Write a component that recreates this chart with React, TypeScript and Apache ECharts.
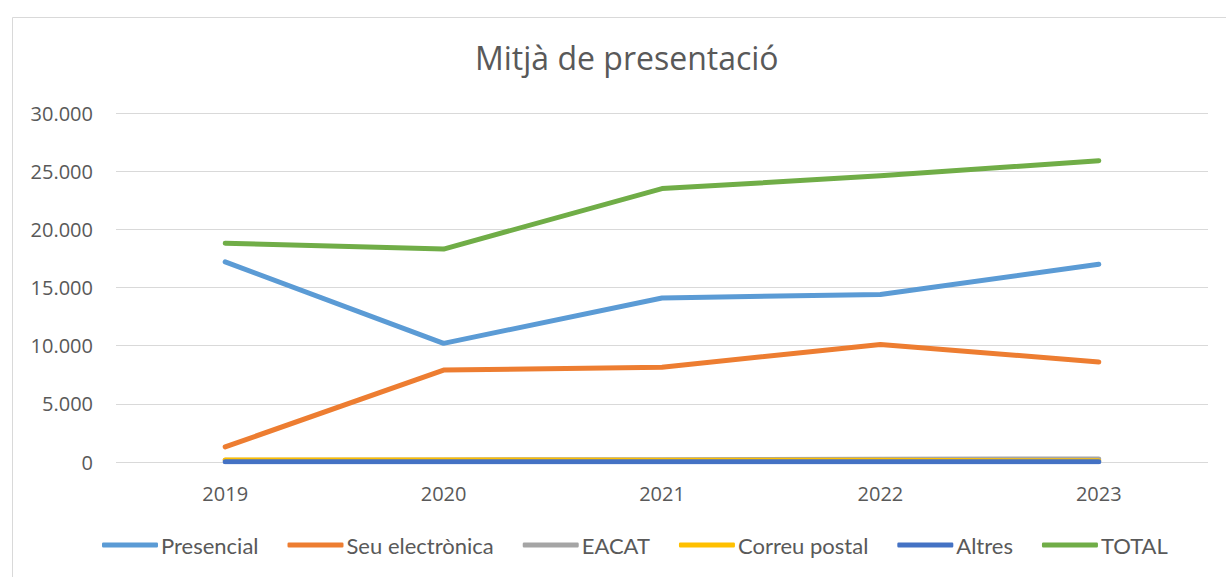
import React, { useEffect, useRef } from "react";
import * as echarts from "echarts";

const titleText = "Mitjà de presentació";
const categories = ["2019", "2020", "2021", "2022", "2023"];
const seriesNames = ["Presencial", "Seu electrònica", "EACAT", "Correu postal", "Altres", "TOTAL"];
const presencial = [17200, 10200, 14100, 14400, 17000];
const seuElectronica = [1300, 7900, 8150, 10100, 8600];
const eacat = [150, 180, 200, 230, 260];
const correuPostal = [180, 170, 160, 140, 100];
const altres = [30, 30, 30, 30, 30];
const total = [18800, 18300, 23500, 24600, 25900];
const yTicks = { min: 0, max: 30000, interval: 5000 };

const colors = ["#5B9BD5", "#ED7D31", "#A5A5A5", "#FFC000", "#4472C4", "#70AD47"];

export default function App() {
  const ref = useRef<HTMLDivElement>(null);
  useEffect(() => {
    if (!ref.current) return;
    const chart = echarts.init(ref.current, null, { renderer: "svg" });
    const values = [presencial, seuElectronica, eacat, correuPostal, altres, total];
    const fmt = (v: number) => String(v).replace(/\B(?=(\d{3})+(?!\d))/g, ".");
    chart.setOption({
      animation: false,
      backgroundColor: "#ffffff",
      color: colors,
      graphic: [
        {
          type: "rect",
          left: 10,
          top: 15,
          shape: { width: 1300, height: 700 },
          style: { fill: "none", stroke: "#d9d9d9", lineWidth: 1 },
          silent: true,
        },
      ],
      title: {
        text: titleText,
        left: 470,
        top: 36,
        textStyle: { fontFamily: "Open Sans", fontSize: 32, fontWeight: "normal", color: "#595959" },
      },
      legend: {
        data: seriesNames,
        left: 97,
        top: 529,
        itemWidth: 56,
        itemHeight: 5,
        itemGap: 29,
        icon: "roundRect",
        textStyle: { fontFamily: "Lato", fontSize: 22, color: "#595959", padding: [0, 0, 0, -2] },
      },
      grid: { left: 116, right: 18, top: 113, bottom: 115, containLabel: false },
      xAxis: {
        type: "category",
        data: categories,
        boundaryGap: true,
        axisLine: { show: false },
        axisTick: { show: false },
        axisLabel: { fontFamily: "Open Sans", fontSize: 20, color: "#595959", margin: 21 },
      },
      yAxis: {
        type: "value",
        min: yTicks.min,
        max: yTicks.max,
        interval: yTicks.interval,
        axisLine: { show: false },
        axisTick: { show: false },
        splitLine: { lineStyle: { color: "#d9d9d9", width: 1 } },
        axisLabel: { fontFamily: "Open Sans", fontSize: 20, color: "#595959", margin: 23, formatter: fmt },
      },
      series: seriesNames.map((name, i) => ({
        name,
        type: "line",
        data: values[i],
        symbol: "none",
        lineStyle: { width: 5, color: colors[i], cap: "round", join: "round" },
        itemStyle: { color: colors[i] },
      })),
    });
    return () => chart.dispose();
  }, []);
  return (
    <div
      ref={ref}
      style={{ position: "fixed", left: 0, top: 0, width: 1226, height: 577, background: "#fff" }}
    />
  );
}
